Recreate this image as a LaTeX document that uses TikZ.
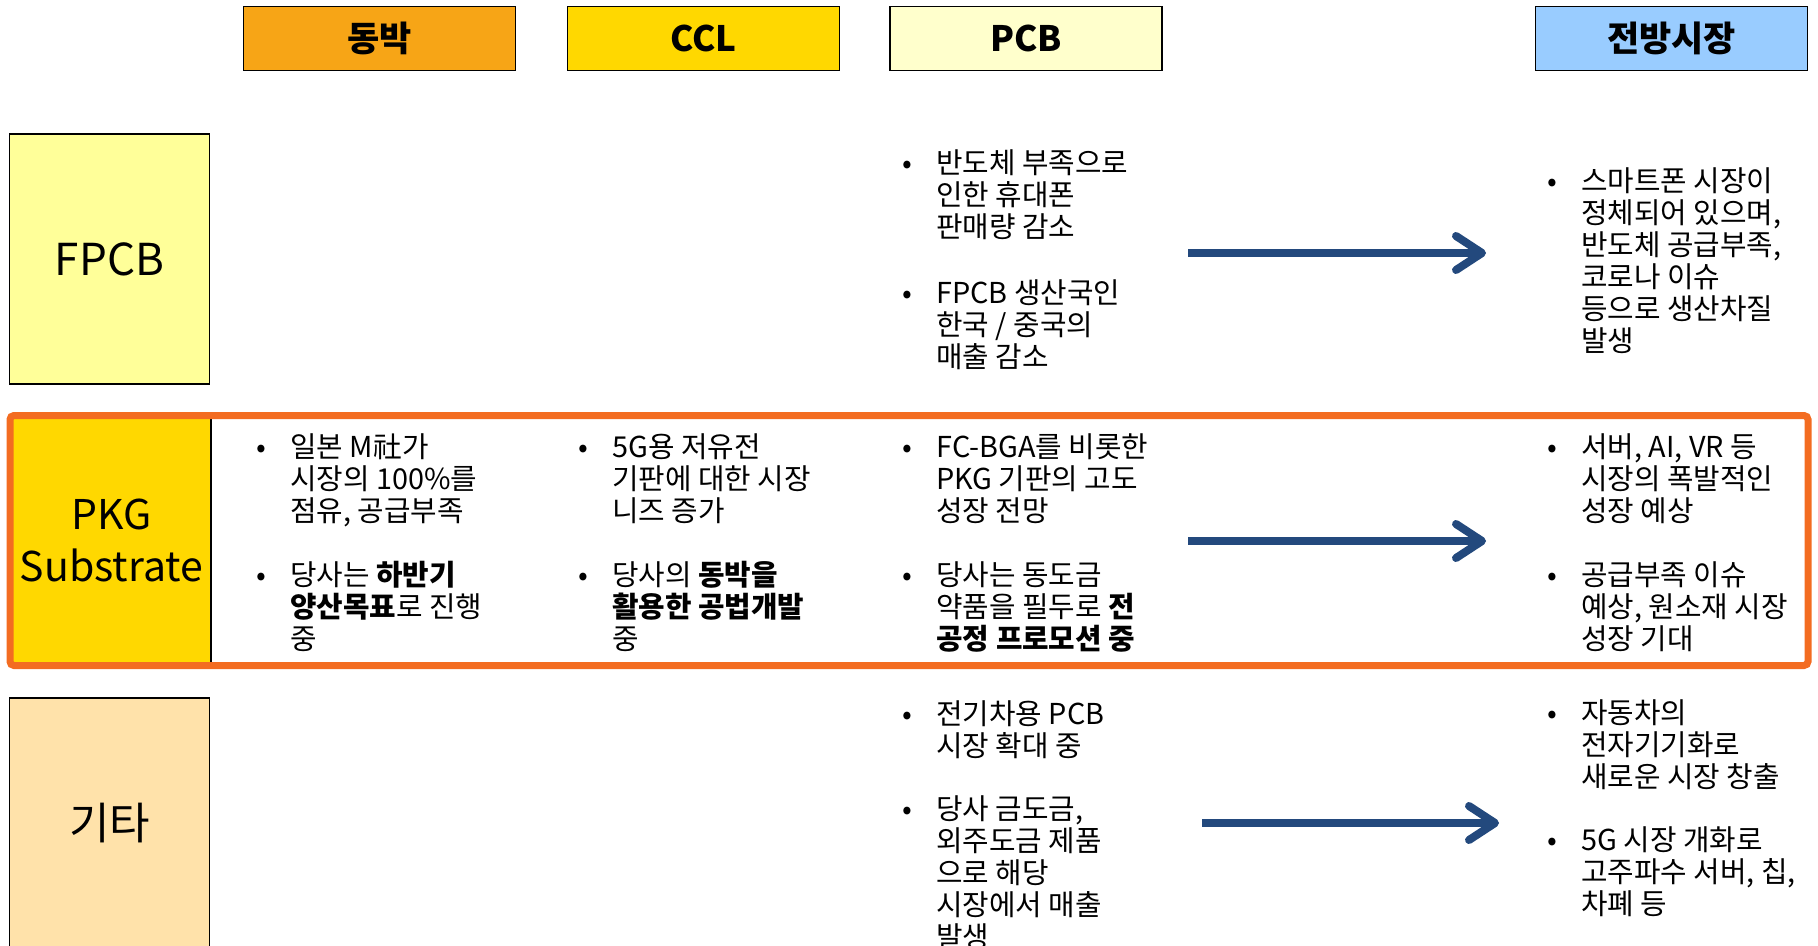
\documentclass[tikz,border=0pt]{standalone}
\usepackage{fontspec}
\setmainfont{Noto Sans CJK KR}
\usepackage{tikz}
\usetikzlibrary{arrows.meta}

\definecolor{dongbak}{RGB}{247,165,22}
\definecolor{cclgold}{RGB}{255,216,0}
\definecolor{pcbpale}{RGB}{255,255,204}
\definecolor{marketblue}{RGB}{153,204,255}
\definecolor{fpcbyellow}{RGB}{255,255,153}
\definecolor{etcpeach}{RGB}{255,226,170}
\definecolor{frameorange}{RGB}{243,108,33}
\definecolor{arrowblue}{RGB}{35,73,125}

\newcommand{\bul}[1]{\makebox[17pt][l]{\textbullet}\vtop{\let\\\cr\halign{##\hfil\cr#1\cr}}}

\begin{document}
\begin{tikzpicture}[x=0.5pt,y=-0.5pt,
	head/.style={draw=black,line width=0.8pt,minimum width=136pt,minimum height=32pt,inner sep=0pt,font=\fontsize{17.5}{20}\selectfont\bfseries},
	rowbox/.style={draw=black,line width=0.7pt,minimum width=100pt,minimum height=125pt,inner sep=0pt,align=center,font=\fontsize{22}{26}\selectfont},
	item/.style={anchor=base west,inner sep=0pt,font=\fontsize{14.4}{16}\selectfont},
	flow/.style={arrowblue,line width=4pt,-{Straight Barb[length=13pt,width=17pt,round]}}]
	\clip (0,0) rectangle (1818,946);
	
	%column heads
	\node[head,fill=dongbak] (hdong) at (379.5,38.5) {동박};
	\node[head,fill=cclgold] (hccl) at (703.5,38.5) {CCL};
	\node[head,fill=pcbpale] (hpcb) at (1026,38.5) {PCB};
	\node[head,fill=marketblue] (hmkt) at (1671.5,38.5) {전방시장};
	
	%row heads
	\node[rowbox,fill=fpcbyellow] (rfpcb) at (109.5,259) {FPCB};
	\node[rowbox,draw=none,fill=cclgold,minimum width=98.5pt,minimum height=121.5pt,font=\fontsize{20.5}{26}\selectfont] (rpkg) at (111.5,540.5) {PKG\\Substrate};
	\draw[line width=0.9pt] (rpkg.north east) -- (rpkg.south east);
	\node[rowbox,fill=etcpeach] (retc) at (109.5,823) {기타};
	
	\draw[frameorange,line width=3.5pt,rounded corners=2pt] (10,415.5) rectangle (1808,665.5);	%highlight
	
	%FPCB
	\node[item] (fpcbA) at (902,174) {\bul{반도체 부족으로\\인한 휴대폰\\판매량 감소}};
	\node[item] (fpcbB) at (902,304) {\bul{FPCB 생산국인\\한국 / 중국의\\매출 감소}};
	\node[item] (fpcbM) at (1547,192) {\bul{스마트폰 시장이\\정체되어 있으며,\\반도체 공급부족,\\코로나 이슈\\등으로 생산차질\\발생}};
	
	%PKG substrate
	\node[item] (dongA) at (256,457) {\bul{일본 M社가\\시장의 100\%를\\점유, 공급부족}};
	\node[item] (dongB) at (256,585) {\bul{당사는 \textbf{하반기}\\\textbf{양산목표}로 진행\\중}};
	\node[item] (cclA) at (578,457) {\bul{5G용 저유전\\기판에 대한 시장\\니즈 증가}};
	\node[item] (cclB) at (578,585) {\bul{당사의 \textbf{동박을}\\\textbf{활용한 공법개발}\\중}};
	\node[item] (pkgA) at (902,457) {\bul{FC-BGA를 비롯한\\PKG 기판의 고도\\성장 전망}};
	\node[item] (pkgB) at (902,585) {\bul{당사는 동도금\\약품을 필두로 \textbf{전}\\\textbf{공정 프로모션 중}}};
	\node[item] (pkgM) at (1547,457) {\bul{서버, AI, VR 등\\시장의 폭발적인\\성장 예상}};
	\node[item] (pkgN) at (1547,585) {\bul{공급부족 이슈\\예상, 원소재 시장\\성장 기대}};
	
	%others
	\node[item] (etcA) at (902,724) {\bul{전기차용 PCB\\시장 확대 중}};
	\node[item] (etcB) at (902,819) {\bul{당사 금도금,\\외주도금 제품\\으로 해당\\시장에서 매출\\발생}};
	\node[item] (etcM) at (1547,723) {\bul{자동차의\\전자기기화로\\새로운 시장 창출}};
	\node[item] (etcN) at (1547,850) {\bul{5G 시장 개화로\\고주파수 서버, 칩,\\차폐 등}};
	
	%arrows to the market column
	\coordinate (fpcbFrom) at (1188,253);
	\coordinate (fpcbTo) at (1486,253);
	\coordinate (pkgFrom) at (1188,541);
	\coordinate (pkgTo) at (1486,541);
	\coordinate (etcFrom) at (1202,823);
	\coordinate (etcTo) at (1499,823);
	\draw[flow] (fpcbFrom) -- (fpcbTo);
	\draw[flow] (pkgFrom) -- (pkgTo);
	\draw[flow] (etcFrom) -- (etcTo);
\end{tikzpicture}
\end{document}
